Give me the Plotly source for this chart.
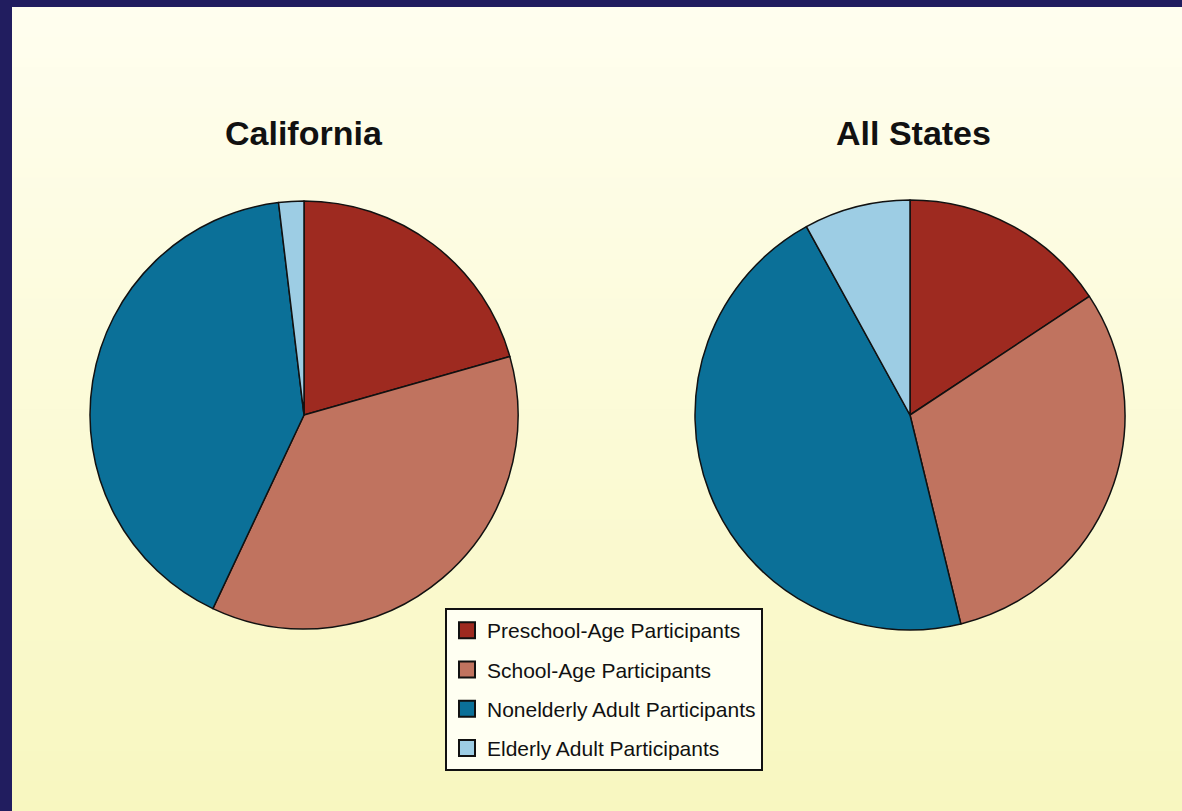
import plotly.graph_objects as go

# Participant shares (percent) by age group
categories = ["Preschool-Age Participants", "School-Age Participants",
              "Nonelderly Adult Participants", "Elderly Adult Participants"]
california = [20.6, 36.4, 41.1, 1.9]
all_states = [15.7, 30.5, 45.8, 8.0]
titles = ["California", "All States"]

colors = ["#9e2a20", "#c0735f", "#0b7098", "#9dcde4"]

W, H = 1182, 811
NAVY = "#211d5f"

fig = go.Figure()

pie_domains = [
    dict(x=[90 / W, 518 / W], y=[1 - 629 / H, 1 - 201 / H]),
    dict(x=[695 / W, 1125 / W], y=[1 - 630 / H, 1 - 200 / H]),
]

for values, dom, name in zip([california, all_states], pie_domains, titles):
    fig.add_trace(go.Pie(
        labels=categories, values=values, name=name,
        sort=False, direction="clockwise", rotation=0,
        marker=dict(colors=colors, line=dict(color="#111111", width=1.5)),
        textinfo="none", hoverinfo="label+percent",
        showlegend=False, domain=dom,
    ))

# Legend entries as square swatches, one group each for spacing
for cat, col in zip(categories, colors):
    fig.add_trace(go.Scatter(
        x=[None], y=[None], mode="markers", name=cat,
        legendgroup=cat,
        marker=dict(symbol="square", size=16, color=col,
                    line=dict(color="#111111", width=2)),
    ))

# Cream-to-yellow gradient panel inside the navy frame
shapes = []
top_rgb = (255, 254, 239)
bot_rgb = (248, 247, 192)
x0, y0 = 12, 7
n = 80
for i in range(n):
    t = i / (n - 1)
    r = round(top_rgb[0] + (bot_rgb[0] - top_rgb[0]) * t)
    g = round(top_rgb[1] + (bot_rgb[1] - top_rgb[1]) * t)
    b = round(top_rgb[2] + (bot_rgb[2] - top_rgb[2]) * t)
    ya = y0 + (H - y0) * i / n
    yb = y0 + (H - y0) * (i + 1) / n + 1
    shapes.append(dict(
        type="rect", xref="paper", yref="paper", layer="below",
        x0=x0 / W, x1=1, y0=1 - min(yb, H) / H, y1=1 - ya / H,
        line=dict(width=0), fillcolor=f"rgb({r},{g},{b})",
    ))

title_font = dict(size=34, color="#111111", family="Liberation Sans, Arial")
annotations = [
    dict(text=f"<b>{titles[0]}</b>", x=304 / W, y=1 - 133 / H, xref="paper", yref="paper",
         showarrow=False, xanchor="center", yanchor="middle", font=title_font),
    dict(text=f"<b>{titles[1]}</b>", x=913 / W, y=1 - 133 / H, xref="paper", yref="paper",
         showarrow=False, xanchor="center", yanchor="middle", font=title_font),
]

fig.update_layout(
    width=W, height=H, autosize=False,
    margin=dict(l=0, r=0, t=0, b=0),
    paper_bgcolor=NAVY, plot_bgcolor="rgba(0,0,0,0)",
    xaxis=dict(visible=False, range=[0, 1]),
    yaxis=dict(visible=False, range=[0, 1]),
    shapes=shapes, annotations=annotations,
    legend=dict(
        x=445 / W, y=1 - 608 / H, xanchor="left", yanchor="top",
        bgcolor="#fffff2", bordercolor="#111111", borderwidth=2,
        font=dict(size=21, color="#111111", family="Liberation Sans, Arial"),
        tracegroupgap=9, itemclick=False, itemdoubleclick=False,
        entrywidth=285,
    ),
    showlegend=True,
)

fig.write_html("out.html")
